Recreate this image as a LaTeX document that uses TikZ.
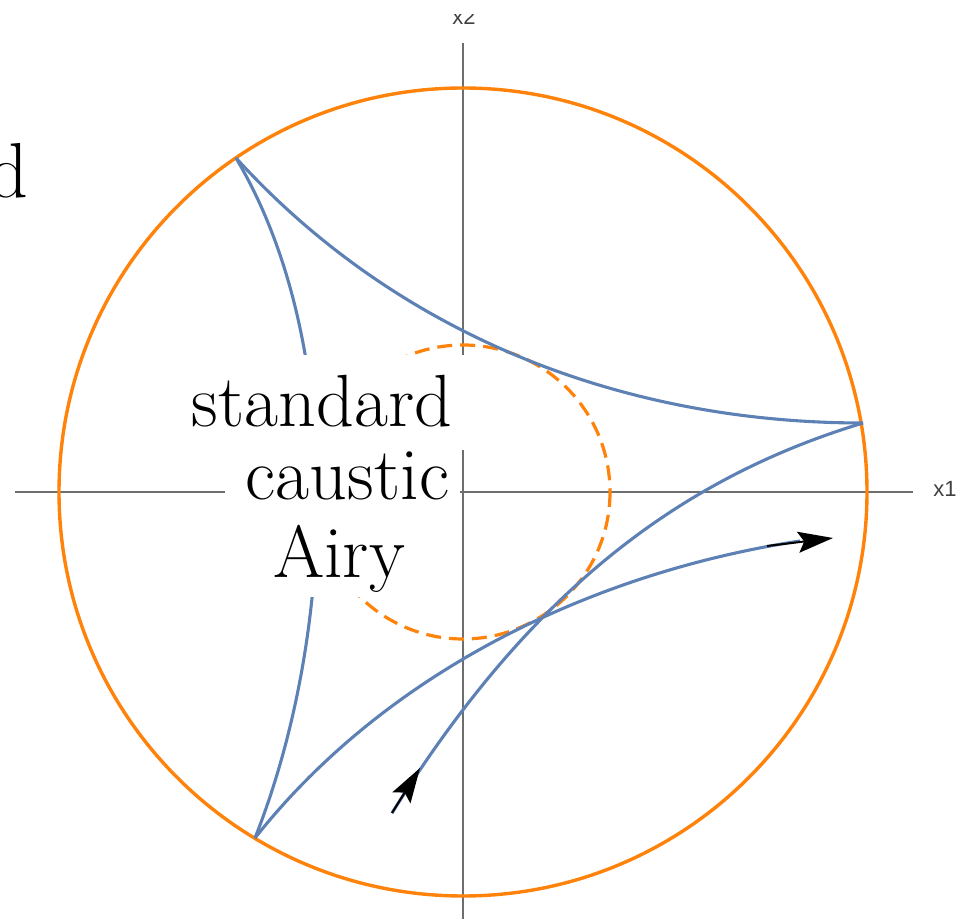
\documentclass[tikz,border=0pt]{standalone}
\usepackage{fontspec}
\newfontfamily\axfont{Liberation Sans}
\usetikzlibrary{arrows.meta}
\definecolor{cblue}{RGB}{94,129,181}
\definecolor{corange}{RGB}{255,130,10}
\definecolor{caxis}{RGB}{110,110,110}
\tikzset{
  axisline/.style={draw=caxis, line width=0.75pt},
  bigcircle/.style={draw=corange, line width=1.7pt},
  dashcircle/.style={draw=corange, line width=1.6pt, dash pattern=on 7.5pt off 4pt},
  causticline/.style={draw=cblue, line width=1.55pt, line join=round},
  dirarrow/.style={draw=black, line width=1pt, -{Stealth[length=17.5pt,width=10.5pt,inset=3pt]}},
  bigtext/.style={inner sep=0pt, font=\fontsize{37}{44}\selectfont, anchor=base},
  axlabel/.style={inner sep=0pt, text=black!75, font=\axfont\fontsize{11}{13}\selectfont}
}
\begin{document}
\begin{tikzpicture}[x=0.5pt,y=-0.5pt]
\useasboundingbox (0,0) rectangle (959,919);
% centre and cusps
\coordinate (O) at (463,492);
\coordinate (A) at (236,158);
\coordinate (B) at (863,423);
\coordinate (C) at (255,838);
\coordinate (T) at (392,813);
\coordinate (E) at (800,541);
\coordinate (xl) at (15,492);
\coordinate (xr) at (913,492);
\coordinate (yt) at (463,43);
\coordinate (yb) at (463,925);
% axes
\draw[axisline] (xl) -- (xr);
\draw[axisline] (yt) -- (yb);
% circles
\draw[bigcircle] (O) circle[radius=404];
\draw[dashcircle] (O) circle[radius=147];
% caustic curves
\draw[causticline] (A) .. controls (397,335) and (623,423) .. (B);
\draw[causticline] (A) .. controls (347,345) and (335,636) .. (C);
\draw[causticline] (C) .. controls (391,666) and (602,571) .. (E);
\draw[causticline] (T) .. controls (524.5,600.5) and (671,481) .. (B);
% arrows
\coordinate (a1s) at (767,546);
\coordinate (a1e) at (833,538);
\coordinate (a2e) at (420,768);
\draw[dirarrow] (a1s) -- (a1e);
\draw[dirarrow] (T) -- (a2e);
% white label backgrounds
\fill[white] (180,355) rectangle (466,450);
\fill[white] (225,450) rectangle (460,525);
\fill[white] (262,525) rectangle (418,597);
% labels
\node[bigtext] (l1) at (322,427) {standard};
\node[bigtext] (l2) at (347.5,500) {caustic};
\node[bigtext] (l3) at (339,578) {Airy};
\node[inner sep=0pt, font=\fontsize{39}{44}\selectfont, anchor=base east] (ld) at (29,198) {d};
\node[axlabel, anchor=base west] (x1) at (933,497) {x1};
\begin{scope}
\clip (400,15) rectangle (530,40);
\node[axlabel, anchor=base] (x2) at (464,25) {x2};
\end{scope}
\end{tikzpicture}
\end{document}
